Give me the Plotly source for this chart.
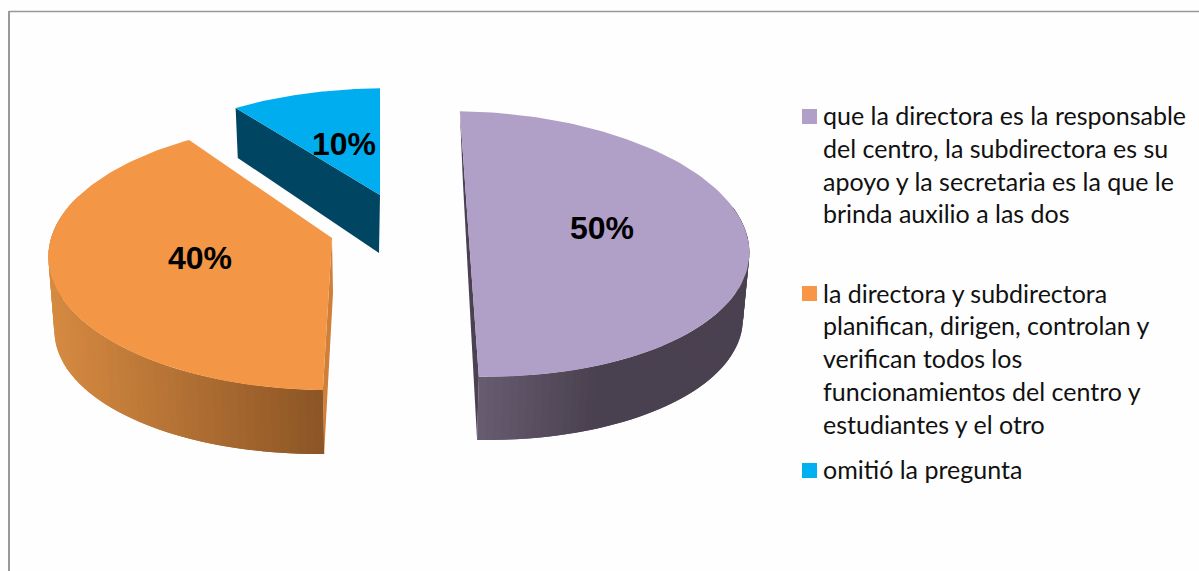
import numpy as np
import plotly.graph_objects as go

# ---- data ----
categories = [
    "que la directora es la responsable del centro, la subdirectora es su apoyo y la secretaria es la que le brinda auxilio a las dos",
    "la directora y subdirectora planifican, dirigen, controlan y verifican todos los funcionamientos del centro y estudiantes y el otro",
    "omitió la pregunta",
]
values = [50, 40, 10]
legend_lines = [
    ["que la directora es la responsable", "del centro, la subdirectora es su",
     "apoyo y la secretaria es la que le", "brinda auxilio a las dos"],
    ["la directora y subdirectora", "planifican, dirigen, controlan y", "verifican todos los",
     "funcionamientos del centro y", "estudiantes y el otro"],
    ["omitió la pregunta"],
]

# ---- styles / layout ----
W, H = 1199, 571
top_colors = ["#B09FC6", "#F39645", "#00AEEF"]
swatch_colors = ["#B09FC6", "#F79646", "#00B0F0"]
cut_colors = ["#4A4152", "#CF7F38", "#004561"]
START = -90.0
# exploded/perspective geometry of every slice: (cx, cy, a, b, skew_x, tilt_y, perspective)
top_geo = [
    (468.0, 225.0, 277, 130, 0.0714, 0.015, 1 / 7),
    (332.0, 238.0, 280, 132, -0.06, 0.01, 0.132),
    (380.0, 195.0, 274, 122, 0.0, -0.01, 1 / 7),
]
bot_geo = [
    (469.0, 293.0, 270, 126, 0.055, 0.015, 1 / 7),
    (330.0, 307.0, 272, 126, -0.04, -0.01, 1 / 7),
    (379.0, 253.0, 268, 133, 0.0, -0.01, 1 / 7),
]
label_xy = [(602, 228), (200, 258), (344, 144)]
swatch_y = [116.5, 293.5, 470.5]
line_y = [[114.5, 147.5, 180.5, 212.5], [292.5, 324.5, 357.5, 390.5, 423.5], [468.5]]
TEXT_X = 824
TEXT_SIZE = 25
FONT = "Lato"


def pt(theta, g):
    cx, cy, a, b, sx, ty, k = g
    t = np.radians(theta)
    w = 1 - k * np.sin(t)
    dx = a * np.cos(t) / w
    dy = b * np.sin(t) / w
    return cx + dx + sx * dy, cy + dy + ty * dx


def mix(c1, c2, f):
    f = min(max(f, 0), 1)
    c = [round(c1[i] + (c2[i] - c1[i]) * f) for i in range(3)]
    return f"rgb({c[0]},{c[1]},{c[2]})"


fig = go.Figure()


def poly(xs, ys, color, lw=0.0):
    fig.add_trace(go.Scatter(x=list(xs), y=list(ys), mode="lines", fill="toself", fillcolor=color,
                             line=dict(color=color, width=lw), hoverinfo="skip", showlegend=False))


def wall(g, gb, th, c1, c2, x_from, x_to):
    """Paint the outer wall strip by strip; each strip overlaps the next so no seams show."""
    for i in range(len(th) - 1):
        t0, t1 = th[i], th[min(i + 2, len(th) - 1)]
        x0, y0 = pt(t0, g); x1, y1 = pt(t1, g)
        x2, y2 = pt(t1, gb); x3, y3 = pt(t0, gb)
        f = (x3 - x_from) / (x_to - x_from)
        poly([x0, x1, x2, x3, x0], [y0, y1, y2, y3, y0], mix(c1, c2, f))


total = sum(values)
spans = []
a0 = START
for v in values:
    spans.append((a0, a0 + 360.0 * v / total))
    a0 += 360.0 * v / total

# ---- purple slice: outer wall, cut wall, top ----
g, gb = top_geo[0], bot_geo[0]
s, e = spans[0]
wall(g, gb, np.linspace(e, s + 80, 70), (103, 91, 112), (74, 65, 80), 477, 587)
bx, by = pt(e, gb)
tx, ty = pt(s, g)
fx, fy = pt(e, g)
cx, cy = pt(s, gb)
poly([tx, cx, bx, fx, tx], [ty, cy, by, fy, ty], cut_colors[0])

# ---- orange slice ----
g, gb = top_geo[1], bot_geo[1]
s, e = spans[1]
wall(g, gb, np.linspace(s + 108, s, 70), (214, 138, 65), (138, 84, 37), 55, 324)
ax, ay = g[0], g[1]
fx, fy = pt(s, g)
bx, by = pt(s, gb)
poly([ax, ax + 1, bx, fx, ax], [ay, ay + 55, by, fy, ay], cut_colors[1])

# ---- blue slice cut wall ----
g, gb = top_geo[2], bot_geo[2]
s, e = spans[2]
x0, y0 = pt(s, g)
x1, y1 = pt(s, gb)
poly([x0, g[0], gb[0], x1, x0], [y0, g[1], gb[1], y1, y0], cut_colors[2])

# ---- tops ----
for i, (s, e) in enumerate(spans):
    g = top_geo[i]
    th = np.linspace(s, e, 120)
    xs, ys = pt(th, g)
    if i == 0:
        xs = np.asarray(xs); ys = np.asarray(ys)
    else:
        xs = np.r_[g[0], xs, g[0]]
        ys = np.r_[g[1], ys, g[1]]
    poly(xs, ys, top_colors[i])

# ---- value labels ----
ann = []
for v, (x, y) in zip(values, label_xy):
    ann.append(dict(x=x, y=y, xref="x", yref="y", text=f"<b>{v}%</b>", showarrow=False, xanchor="center",
                    yanchor="middle", font=dict(family="Liberation Sans", size=32, color="#000000")))

# ---- legend ----
for i, lines in enumerate(legend_lines):
    fig.add_trace(go.Scatter(x=[809.5], y=[swatch_y[i]], mode="markers", name=categories[i],
                             marker=dict(symbol="square", size=15, color=swatch_colors[i], line=dict(width=0)),
                             hoverinfo="skip", showlegend=False))
    for txt, y in zip(lines, line_y[i]):
        ann.append(dict(x=TEXT_X, y=y, xref="x", yref="y", text=txt, showarrow=False, xanchor="left",
                        yanchor="middle", xshift=-3, font=dict(family=FONT, size=TEXT_SIZE, color="#111111")))

fig.update_layout(
    width=W, height=H, margin=dict(l=0, r=0, t=0, b=0, pad=0),
    paper_bgcolor="#FEFEFE", plot_bgcolor="rgba(0,0,0,0)",
    xaxis=dict(range=[0, W], visible=False, fixedrange=True),
    yaxis=dict(range=[H, 0], visible=False, fixedrange=True),
    annotations=ann, showlegend=False,
    shapes=[
        dict(type="line", xref="x", yref="y", x0=9, x1=9, y0=11, y1=H, line=dict(color="#999999", width=2)),
        dict(type="line", xref="x", yref="y", x0=9, x1=W, y0=11.5, y1=11.5, line=dict(color="#999999", width=1.5)),
    ],
)
fig.write_html("out.html", config={"displayModeBar": False},
               post_script="document.body.style.margin='0';document.body.style.overflow='hidden';")
